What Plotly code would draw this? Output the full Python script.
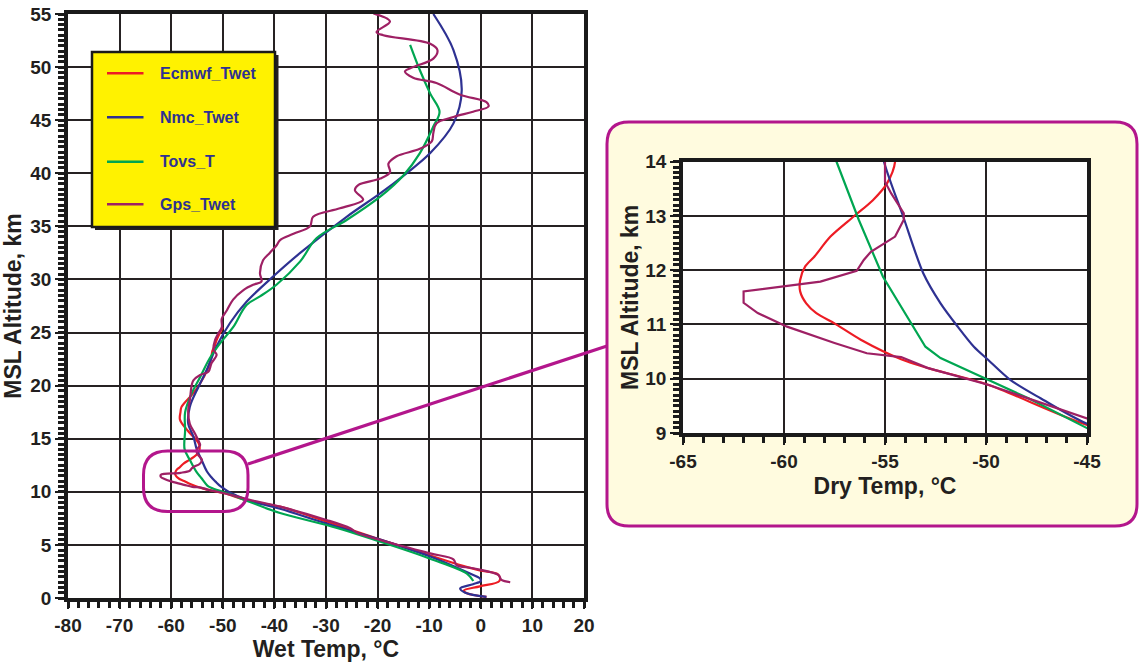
import plotly.graph_objects as go

# ---------------- data: temperature (deg C) against MSL altitude (km) ----------------
ecmwf_alt = [0.1, 0.45, 0.7, 1.1, 1.6, 2.2, 2.6, 3.1, 3.3, 4.0, 5.5, 7.2, 8.6, 9.15, 9.89, 10.2,
             10.36, 10.72, 11.02, 11.21, 11.39, 11.61, 11.82, 12.07, 12.25, 12.62, 12.99, 13.29,
             13.6, 14.0, 14.6, 15.7, 16.8, 17.5, 18.0, 19.3, 20.2, 21.5, 22.5, 23.3, 23.7, 24.3, 25.5]
ecmwf_t = [1.1, -2.7, -3.3, -0.2, 3.6, 3.4, -0.2, -4.0, -5.3, -9.8, -19.5, -29.9, -38.9, -45.0, -49.9, -52.9,
           -54.2, -56.2, -57.5, -58.4, -58.9, -59.2, -59.2, -58.95, -58.5, -57.7, -56.55, -55.6,
           -54.9, -54.5, -54.7, -56.7, -58.3, -58.2, -58.0, -55.7, -54.4, -53.0, -52.3, -52.0, -51.6, -51.2, -50.0]

nmc_alt = [0.1, 0.5, 0.9, 1.3, 1.6, 1.85, 2.3, 3.9, 5.5, 7.0, 8.4, 9.17, 9.64, 9.98, 10.35, 10.59,
           10.96, 11.39, 11.94, 12.99, 14.0, 15.2, 16.4, 18.0, 19.9, 21.5, 23.7, 25.9, 27.9, 30.3,
           32.5, 35.9, 38.1, 40.0, 41.9, 44.7, 47.8, 51.6, 55.0]
nmc_t = [1.1, -3.0, -4.0, -1.5, 0.0, -0.2, -2.1, -9.8, -19.5, -29.9, -38.9, -45.0, -47.3, -48.8, -49.9, -50.6,
         -51.4, -52.25, -53.1, -54.1, -55.05, -55.7, -56.7, -56.4, -54.7, -53.1, -51.2, -48.6, -45.4, -40.2,
         -35.0, -26.0, -19.5, -14.4, -9.8, -5.3, -3.7, -5.3, -9.2]

tovs_alt = [1.6, 2.3, 3.7, 5.3, 6.87, 8.0, 9.09, 9.64, 9.98, 10.38, 10.59, 11.33, 11.88, 12.93, 14.0,
            15.8, 17.5, 19.3, 20.8, 22.6, 24.0, 25.5, 27.6, 28.4, 29.5, 31.7, 33.9, 35.6, 37.8, 39.8,
            41.9, 44.4, 45.8, 47.5, 49.7, 52.1]
tovs_t = [-1.45, -2.7, -9.8, -19.5, -29.9, -38.9, -45.0, -47.9, -49.9, -52.25, -53.0, -54.2, -55.1, -56.3, -57.4,
          -57.3, -57.3, -56.0, -54.4, -52.5, -50.5, -48.0, -45.4, -42.8, -39.6, -35.0, -31.8, -26.0, -19.5, -15.0,
          -11.8, -9.2, -8.0, -9.8, -11.8, -13.7]

gps_alt = [1.5, 1.7, 2.17, 2.8, 3.1, 3.64, 4.2, 5.46, 6.15, 6.56, 7.35, 8.6, 9.27, 9.89, 10.2, 10.4,
           10.47, 10.66, 10.96, 11.21, 11.4, 11.61, 11.79, 11.99, 12.19, 12.34, 12.62, 12.93, 13.05,
           13.42, 13.63, 14.0, 14.4, 14.7, 15.5, 16.4, 17.7, 18.6, 20.1, 20.5, 21.0, 21.3, 22.1, 22.9,
           23.4, 24.3, 24.9, 25.5, 26.3, 27.1, 28.1, 29.0, 29.5, 29.8, 30.6, 31.8, 32.5, 33.2, 33.7,
           34.3, 35.0, 35.9, 36.7, 37.5, 38.4, 38.9, 39.5, 40.1, 40.9, 41.6, 42.3, 43.0, 43.8, 44.7,
           45.3, 45.8, 46.3, 46.7, 47.4, 48.5, 49.0, 49.6, 50.0, 50.8, 51.6, 52.2, 53.0, 53.3, 54.3, 55.06]
gps_t = [5.7, 4.0, 3.4, -1.5, -4.7, -5.3, -9.8, -19.5, -24.0, -25.3, -29.9, -38.9, -45.0, -49.9, -52.9, -54.2,
         -55.9, -57.5, -59.85, -61.3, -62.0, -62.0, -58.2, -56.4, -56.05, -55.7, -54.5, -54.07, -54.07,
         -54.7, -55.0, -55.0, -54.4, -54.6, -55.4, -56.4, -56.7, -56.4, -56.0, -55.7, -54.4, -52.8, -52.2, -51.2,
         -51.8, -51.5, -50.9, -50.2, -50.2, -49.2, -48.0, -46.0, -44.1, -42.5, -42.8, -42.2, -40.9, -39.6, -38.9,
         -36.3, -33.1, -32.5, -27.3, -22.8, -24.4, -23.7, -19.5, -17.6, -17.9, -16.3, -11.8, -9.5, -9.2, -8.6,
         -5.3, -1.5, 1.5, 1.1, -4.0, -8.6, -13.1, -14.7, -13.1, -9.2, -8.4, -9.8, -18.9, -20.2, -17.6, -20.8]

series_names = ["Ecmwf_Twet", "Nmc_Twet", "Tovs_T", "Gps_Twet"]
series_colors = ["#ed1c24", "#2e3192", "#00a651", "#9e2064"]
series_t = [ecmwf_t, nmc_t, tovs_t, gps_t]
series_alt = [ecmwf_alt, nmc_alt, tovs_alt, gps_alt]
# curves that stay smooth inside the magnified panel (the others keep their kinks there)
smooth_in_panel = [True, True, False, False]

main_x_ticks = [-80, -70, -60, -50, -40, -30, -20, -10, 0, 10, 20]
main_y_ticks = [0, 5, 10, 15, 20, 25, 30, 35, 40, 45, 50, 55]
inset_x_ticks = [-65, -60, -55, -50, -45]
inset_y_ticks = [9, 10, 11, 12, 13, 14]

# ---------------- page geometry ----------------
W, H = 1139, 662
FONT = "Liberation Sans, Arial, Helvetica, sans-serif"
INK = "#231f20"
HILITE = "#b3168c"


def X(px):
    return px / W


def Y(py):
    return 1 - py / H


def rounded_path(x0, y0, x1, y1, r):
    """SVG path (paper coordinates) of a rounded rectangle given in pixels."""
    pts = [
        ("M", [(x0 + r, y0)]), ("L", [(x1 - r, y0)]), ("Q", [(x1, y0), (x1, y0 + r)]),
        ("L", [(x1, y1 - r)]), ("Q", [(x1, y1), (x1 - r, y1)]), ("L", [(x0 + r, y1)]),
        ("Q", [(x0, y1), (x0, y1 - r)]), ("L", [(x0, y0 + r)]), ("Q", [(x0, y0), (x0 + r, y0)]),
    ]
    out = []
    for cmd, pp in pts:
        out.append(cmd + " " + " ".join(f"{X(a):.5f},{Y(b):.5f}" for a, b in pp))
    return " ".join(out) + " Z"


fig = go.Figure()

# profile curves: full chart and magnified panel
for name, col, t, alt, sm in zip(series_names, series_colors, series_t, series_alt, smooth_in_panel):
    fig.add_trace(go.Scatter(
        x=t, y=alt, mode="lines", name=name, showlegend=False,
        line=dict(color=col, width=2.2, shape="spline", smoothing=1.0),
        xaxis="x", yaxis="y", hoverinfo="skip",
    ))
    panel_line = dict(color=col, width=2.2)
    if sm:
        panel_line.update(shape="spline", smoothing=0.8)
    fig.add_trace(go.Scatter(
        x=t, y=alt, mode="lines", name=name, showlegend=False,
        line=panel_line, xaxis="x2", yaxis="y2", hoverinfo="skip",
    ))

tick_font = dict(family=FONT, size=19, color=INK, weight="bold")
title_font = dict(family=FONT, size=23, color=INK, weight="bold")


def axis(domain, rng, ticks, minor, title, standoff, anchor, ticklen):
    return dict(
        domain=domain, range=rng, tickmode="array", tickvals=ticks, ticktext=[str(v) for v in ticks],
        showgrid=True, gridcolor="#262223", gridwidth=1.6, zeroline=False,
        showline=True, linecolor="#1a1a1a", linewidth=3.5, mirror=True,
        ticks="outside", ticklen=ticklen, tickwidth=1.5, tickcolor="#1a1a1a",
        minor=dict(dtick=minor, tick0=rng[0], ticks="outside", ticklen=6, tickwidth=2.6,
                   tickcolor="#1a1a1a", showgrid=False),
        tickfont=tick_font, anchor=anchor, fixedrange=True, automargin=False,
        title=dict(text=title, font=title_font, standoff=standoff),
    )


fig.update_layout(
    width=W, height=H, autosize=False,
    margin=dict(l=0, r=0, t=0, b=0, pad=0),
    paper_bgcolor="white", plot_bgcolor="rgba(0,0,0,0)",
    showlegend=False,
    xaxis=axis([X(68), X(584)], [-80, 20], main_x_ticks, 2, "Wet Temp, °C", 7, "y", 7),
    yaxis=axis([Y(598), Y(14)], [0, 55], main_y_ticks, 0.5, "MSL Altitude, km", 5, "x", 9),
    xaxis2=axis([X(683), X(1087)], [-65, -45], inset_x_ticks, 1, "Dry Temp, °C", 8, "y2", 8),
    yaxis2=axis([Y(433), Y(161.7)], [9, 14], inset_y_ticks, 0.1, "MSL Altitude, km", 1, "x2", 9),
)

shapes = []
# magnified panel: cream rounded box with magenta rim, white plotting area
shapes.append(dict(type="path", path=rounded_path(607, 122, 1137, 526, 22), xref="paper", yref="paper",
                   fillcolor="#fffbdf", line=dict(color=HILITE, width=3), layer="below"))
shapes.append(dict(type="rect", xref="x2 domain", yref="y2 domain", x0=0, x1=1, y0=0, y1=1,
                   fillcolor="white", line=dict(width=0), layer="below"))
# highlighted region in the full chart and its leader line
shapes.append(dict(type="path", path=rounded_path(143.5, 451, 248, 511.5, 24), xref="paper", yref="paper",
                   fillcolor="rgba(0,0,0,0)", line=dict(color=HILITE, width=3), layer="above"))
shapes.append(dict(type="line", xref="paper", yref="paper", x0=X(248), y0=Y(464), x1=X(607), y1=Y(346),
                   line=dict(color=HILITE, width=3.2), layer="above"))

# legend box with drop shadow
shapes.append(dict(type="rect", xref="paper", yref="paper", x0=X(95), x1=X(278.5), y0=Y(230), y1=Y(55),
                   fillcolor="#231f20", line=dict(width=0), layer="above"))
shapes.append(dict(type="rect", xref="paper", yref="paper", x0=X(92), x1=X(275), y0=Y(227), y1=Y(52),
                   fillcolor="#fff200", line=dict(color="#1a1a1a", width=2.5), layer="above"))

annotations = []
legend_rows = [73.3, 117.3, 161.7, 204.3]
for name, col, ry in zip(series_names, series_colors, legend_rows):
    shapes.append(dict(type="line", xref="paper", yref="paper", x0=X(107), x1=X(143.5), y0=Y(ry), y1=Y(ry),
                       line=dict(color=col, width=2.5), layer="above"))
    annotations.append(dict(text=name, xref="paper", yref="paper", x=X(158), y=Y(ry), xanchor="left",
                            yanchor="middle", showarrow=False,
                            font=dict(family=FONT, size=16, color="#2e3192", weight="bold")))

fig.update_layout(shapes=shapes, annotations=annotations)

fig.write_html("out.html")
